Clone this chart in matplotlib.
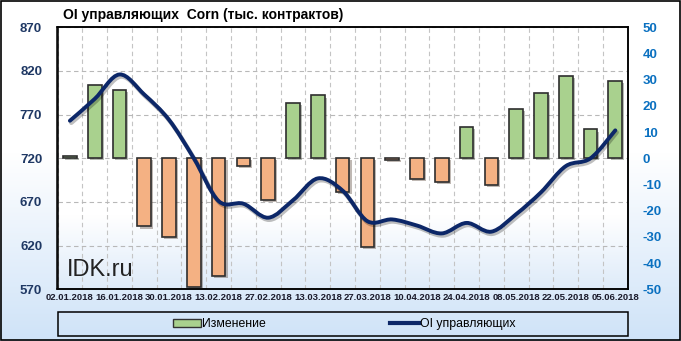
import numpy as np
import matplotlib
matplotlib.use("Agg")
import matplotlib.pyplot as plt
from matplotlib.path import Path
from matplotlib.patches import PathPatch, Patch, Rectangle
from matplotlib.lines import Line2D
from matplotlib.colors import LinearSegmentedColormap
import matplotlib.patheffects as pe

plt.rcParams['font.family'] = ['Liberation Sans', 'DejaVu Sans']

# ---- data ----
dates = ["02.01.2018", "09.01.2018", "16.01.2018", "23.01.2018", "30.01.2018",
         "06.02.2018", "13.02.2018", "20.02.2018", "27.02.2018", "06.03.2018",
         "13.03.2018", "20.03.2018", "27.03.2018", "03.04.2018", "10.04.2018",
         "17.04.2018", "24.04.2018", "01.05.2018", "08.05.2018", "15.05.2018",
         "22.05.2018", "29.05.2018", "05.06.2018"]
change = [0.8, 28, 26, -26, -30, -49, -45, -3, -16, 21, 24, -13, -34, -0.8,
          -8, -9, 12, -10, 19, 25, 31.5, 11, 29.5]
oi = [763, 788, 816, 793, 764, 720, 671, 668, 652, 672, 697, 683, 648, 650,
      643, 634, 646, 636, 656, 681, 711, 720, 752]
left_ticks = [570, 620, 670, 720, 770, 820, 870]
right_ticks = [-50, -40, -30, -20, -10, 0, 10, 20, 30, 40, 50]

title = "OI управляющих  Corn (тыс. контрактов)"
legend_labels = ["Изменение", "OI управляющих"]

W, H = 681, 341
fig = plt.figure(figsize=(W / 100, H / 100), dpi=100)

# figure background gradient
bg = fig.add_axes([0, 0, 1, 1], zorder=-10)
bg.set_axis_off()
cmap_bg = LinearSegmentedColormap.from_list("bg", [(0, "#ffffff"), (0.45, "#ffffff"), (1, "#cfe3f8")])
bg.imshow(np.linspace(0, 1, 256).reshape(-1, 1), aspect="auto", cmap=cmap_bg,
          extent=[0, 1, 0, 1], transform=bg.transAxes)
bg.add_patch(Rectangle((0.001, 0.002), 0.997, 0.995, transform=bg.transAxes,
                       fill=False, edgecolor="black", linewidth=1.2))

pos = [57.5 / W, 1 - 289.3 / H, 570.2 / W, 262 / H]
ax = fig.add_axes(pos)           # left axis: OI line + grid
ax2 = ax.twinx()                 # right axis: changes bars

x = np.arange(len(dates))
ax.set_xlim(-0.5, len(dates) - 0.5)
ax.set_ylim(left_ticks[0], left_ticks[-1])
ax2.set_ylim(right_ticks[0], right_ticks[-1])

# plot area gradient
cmap_pa = LinearSegmentedColormap.from_list("pa", [(0, "#ffffff"), (0.72, "#ffffff"), (1, "#deebf9")])
ax.imshow(np.linspace(0, 1, 256).reshape(-1, 1), aspect="auto", cmap=cmap_pa,
          extent=[0, 1, 0, 1], transform=ax.transAxes, zorder=0)

# grid
ax.set_yticks(left_ticks)
ax.set_xticks(np.arange(-0.5, len(dates), 1), minor=True)
ax.grid(True, which="major", axis="y", color="#b8b8b8", linestyle=(0, (4, 3)), linewidth=0.8, zorder=1)
ax.grid(True, which="minor", axis="x", color="#c4c4c4", linestyle=(0, (4, 3)), linewidth=0.8, zorder=1)
ax.set_axisbelow(True)

# bars
colors = ["#a9d18e" if v >= 0 else "#f4b183" for v in change]
bars = ax2.bar(x, change, width=0.55, color=colors, edgecolor="#2e2e2e", linewidth=1.2, zorder=2)
for b in bars:
    b.set_path_effects([pe.SimplePatchShadow(offset=(1.5, -1.5), alpha=0.35), pe.Normal()])

# smooth line (Catmull-Rom as cubic Bezier, drawn by matplotlib Path)
pts = np.column_stack([x, oi]).astype(float)
verts = [tuple(pts[0])]
codes = [Path.MOVETO]
n = len(pts)
for i in range(n - 1):
    p0 = pts[i - 1] if i > 0 else pts[i]
    p1 = pts[i]
    p2 = pts[i + 1]
    p3 = pts[i + 2] if i + 2 < n else pts[i + 1]
    c1 = p1 + (p2 - p0) / 6.0
    c2 = p2 - (p3 - p1) / 6.0
    verts += [tuple(c1), tuple(c2), tuple(p2)]
    codes += [Path.CURVE4] * 3
line = PathPatch(Path(verts, codes), transform=ax.transData, facecolor="none",
                 edgecolor="#0c2768", linewidth=2.8, zorder=5, capstyle="round")
line.set_path_effects([pe.SimpleLineShadow(offset=(1, -1.5), alpha=0.25, linewidth=3.2), pe.Normal()])
ax2.add_patch(line)

# ticks
ax.set_xticks(x[::2])
ax.set_xticklabels(dates[::2], fontsize=6.8, fontweight="bold", color="#1b1b2b")
ax.tick_params(axis="x", which="both", length=0, pad=3)
ax.set_yticklabels([str(t) for t in left_ticks], fontsize=9.5, fontweight="bold", color="#1f3864")
ax.tick_params(axis="y", length=0, pad=11)
ax2.set_yticks(right_ticks)
ax2.set_yticklabels([str(t) for t in right_ticks], fontsize=9.5, fontweight="bold", color="#0a70c0")
ax2.tick_params(axis="y", length=0, pad=11)
for a in (ax, ax2):
    for s in a.spines.values():
        s.set_color("black")
        s.set_linewidth(1.1)

ax.text(0.016, 0.051, "IDK.ru", transform=ax.transAxes, fontsize=17, color="#222222",
        va="baseline", ha="left", zorder=6)

fig.text(63 / W, 1 - 15 / H, title, fontsize=10, fontweight="bold", va="center", ha="left")

# legend
fig.patches.append(Rectangle((57.5 / W, 1 - 336 / H), 570.2 / W, 24.3 / H,
                             transform=fig.transFigure, fill=False, edgecolor="black", linewidth=1.1))
handles = [Patch(facecolor="#a9d18e", edgecolor="#333333", linewidth=1.0),
           Line2D([0], [0], color="#0c2768", linewidth=3)]
fig.legend(handles, legend_labels, loc="center", bbox_to_anchor=(344 / W, 1 - 324 / H),
           ncol=2, frameon=False, fontsize=8.8, handlelength=2.3, handleheight=0.6,
           handletextpad=0.1, columnspacing=10.2)

fig.savefig("out.png", dpi=100)
